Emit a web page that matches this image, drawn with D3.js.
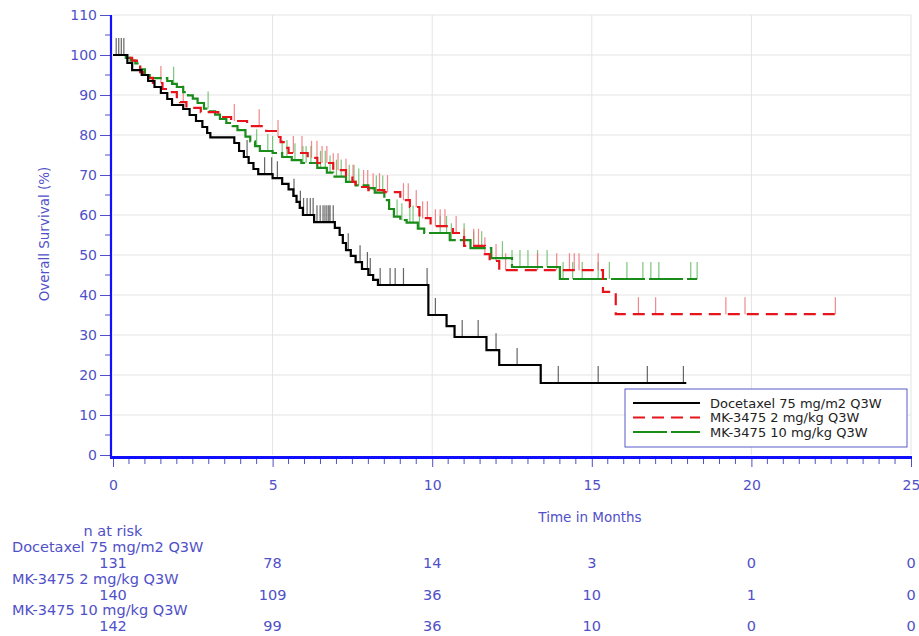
<!DOCTYPE html>
<html><head><meta charset="utf-8">
<script src="https://cdn.jsdelivr.net/npm/d3@7"></script>
<style>body{margin:0;background:#fff}svg{display:block}</style>
</head><body><svg id="c" width="919" height="636"></svg>
<script>
// ---------- data ----------
const seriesNames = ["Docetaxel 75 mg/m2 Q3W", "MK-3475 2 mg/kg Q3W", "MK-3475 10 mg/kg Q3W"];
const timeTicks = [0, 5, 10, 15, 20, 25];
const survTicks = [0, 10, 20, 30, 40, 50, 60, 70, 80, 90, 100, 110];

const docetaxelTimes = [0, 0.45, 0.6, 0.9, 1.1, 1.3, 1.5, 1.7, 1.85, 2.2, 2.4, 2.6, 2.8, 2.95, 3.05, 3.8, 3.95, 4.1, 4.25, 4.4, 4.55, 5.0, 5.3, 5.5, 5.65, 5.75, 5.85, 5.95, 6.3, 6.95, 7.1, 7.2, 7.3, 7.45, 7.6, 7.8, 8.0, 8.15, 8.3, 9.88, 10.45, 10.7, 11.7, 12.1, 13.4];
const docetaxelSurv  = [100, 98, 96.2, 95, 93.5, 92, 90.5, 89, 87.5, 86.5, 85, 83.5, 82, 80.5, 79.4, 78, 76, 74.5, 73, 71.5, 70.2, 69.2, 67.8, 66.4, 64.8, 63.3, 61.8, 60, 58.2, 56.8, 55, 53, 51.2, 49.8, 48.2, 46.5, 45, 43.8, 42.5, 35, 32.2, 29.5, 26.2, 22.5, 18];
const docetaxelEnd = 17.96;
const docetaxelCensor = [0.1, 0.18, 0.26, 0.34, 4.2, 4.75, 4.97, 5.15, 5.67, 5.87, 5.97, 6.08, 6.18, 6.27, 6.39, 6.49, 6.58, 6.64, 6.7, 6.76, 6.8, 6.9, 7.37, 7.74, 7.97, 8.06, 8.37, 8.68, 8.84, 9.1, 9.84, 10.1, 10.94, 11.44, 12.0, 12.66, 13.95, 15.2, 16.74, 17.87];

const mk2Times = [0, 0.45, 0.6, 0.75, 0.85, 0.95, 1.25, 1.55, 1.7, 2.0, 2.1, 2.3, 2.75, 3.3, 3.7, 4.2, 4.8, 5.15, 5.25, 5.4, 5.5, 6.1, 6.4, 6.9, 7.3, 7.5, 7.6, 8.0, 8.5, 9.0, 9.3, 9.6, 9.95, 10.65, 11.0, 11.65, 11.8, 12.1, 15.35, 15.75];
const mk2Surv  = [100, 99.3, 98.6, 97.1, 95.7, 94.3, 93, 91.5, 90.7, 89.2, 88.2, 86.8, 85.7, 84.5, 83.5, 82.2, 81, 79.5, 78.2, 76.8, 75.5, 74.3, 73, 71.2, 69.8, 68.3, 67, 66.2, 65.7, 63.7, 62, 59.2, 57.2, 55.5, 52.3, 50.2, 48.5, 46.2, 40.8, 35.2];
const mk2End = 22.63;
const mk2Censor = [1.5, 2.2, 3.8, 4.58, 5.17, 5.65, 5.92, 6.22, 6.39, 6.55, 6.7, 6.9, 7.05, 7.3, 7.52, 7.85, 7.98, 8.15, 8.35, 8.6, 9.1, 9.25, 9.5, 9.7, 9.85, 10.1, 10.25, 10.4, 10.75, 11.0, 11.3, 11.45, 11.65, 12.0, 12.3, 13.3, 13.9, 14.3, 14.45, 14.6, 15.2, 16.46, 17.0, 19.2, 19.8, 22.63];

const mk10Times = [0, 0.4, 0.55, 0.7, 0.85, 1.0, 1.15, 1.7, 1.85, 2.0, 2.2, 2.35, 2.5, 2.65, 2.85, 3.0, 3.2, 3.35, 3.55, 3.75, 3.9, 4.15, 4.3, 4.45, 4.6, 5.0, 5.3, 5.6, 5.9, 6.4, 6.7, 6.9, 7.3, 7.6, 8.0, 8.2, 8.5, 8.65, 8.8, 9.0, 9.2, 9.55, 9.75, 10.55, 11.2, 11.85, 12.5, 14.0];
const mk10Surv  = [100, 99.3, 98.6, 97.9, 96.4, 95, 94.2, 93.5, 92.8, 92, 90.7, 89.9, 89.1, 88, 86.6, 85.9, 85.1, 84, 83, 82.2, 81.2, 79.6, 78.4, 77.2, 76, 75.5, 74.5, 73.7, 73, 71.8, 70.6, 69.6, 68.3, 67.4, 66.7, 65.6, 63.7, 61.5, 59.6, 58.7, 58.1, 56.6, 55.5, 53.7, 51.7, 49.2, 47, 44];
const mk10End = 18.3;
const mk10Censor = [1.9, 2.98, 4.5, 4.85, 5.0, 5.3, 5.45, 5.7, 5.95, 6.05, 6.2, 6.5, 6.65, 6.8, 7.0, 7.15, 7.4, 7.55, 7.7, 8.25, 8.45, 8.9, 9.05, 9.3, 9.4, 9.6, 10.25, 10.45, 10.6, 11.0, 11.3, 11.55, 12.2, 12.5, 12.75, 13.0, 13.3, 13.6, 14.1, 14.4, 14.7, 15.2, 15.55, 16.1, 16.6, 16.85, 17.1, 18.1, 18.3];

const riskTimes = [0, 5, 10, 15, 20, 25];
const riskDocetaxel = [131, 78, 14, 3, 0, 0];
const riskMK2 = [140, 109, 36, 10, 1, 0];
const riskMK10 = [142, 99, 36, 10, 0, 0];

// ---------- drawing ----------
const svg = d3.select("#c");
const x = d3.scaleLinear().domain([0, 25]).range([113, 911]);
const y = d3.scaleLinear().domain([0, 110]).range([455, 15]);
const axisBlue = "#1010ff", textBlue = "#5050c8", font = "DejaVu Sans, sans-serif";

// grid
svg.append("g").selectAll("line").data(survTicks.slice(1)).join("line")
  .attr("x1", x(0)).attr("x2", x(25)).attr("y1", d => y(d)).attr("y2", d => y(d))
  .attr("stroke", "#e4e4e4").attr("stroke-width", 1);
svg.append("g").selectAll("line").data(timeTicks.slice(1)).join("line")
  .attr("x1", d => x(d)).attr("x2", d => x(d)).attr("y1", y(110)).attr("y2", y(0))
  .attr("stroke", "#e4e4e4").attr("stroke-width", 1);

// axes
const yAxis = d3.axisLeft(y).tickValues(survTicks).tickSize(11).tickPadding(3);
const gy = svg.append("g").attr("transform", "translate(111,0)").call(yAxis);
gy.select(".domain").remove();
gy.selectAll(".tick line").attr("stroke", textBlue);
gy.selectAll("text").attr("fill", textBlue).attr("font-family", font).attr("font-size", 14);
const yMinor = d3.range(5, 110, 10);
svg.append("g").selectAll("line").data(yMinor).join("line")
  .attr("x1", 105).attr("x2", 111).attr("y1", d => y(d)).attr("y2", d => y(d)).attr("stroke", textBlue);
svg.append("line").attr("x1", 111).attr("x2", 111).attr("y1", y(110)).attr("y2", 458)
  .attr("stroke", axisBlue).attr("stroke-width", 2.2);

const xAxis = d3.axisBottom(x).tickValues(timeTicks).tickSize(9).tickPadding(13);
const gx = svg.append("g").attr("transform", "translate(0,458)").call(xAxis);
gx.select(".domain").remove();
gx.selectAll(".tick line").attr("stroke", textBlue);
gx.selectAll("text").attr("fill", textBlue).attr("font-family", font).attr("font-size", 14);
svg.append("g").selectAll("line").data(d3.range(0.5, 25, 0.5).filter(d => d % 5 !== 0)).join("line")
  .attr("x1", d => x(d)).attr("x2", d => x(d)).attr("y1", 458).attr("y2", 464).attr("stroke", textBlue);
svg.append("line").attr("x1", 110).attr("x2", 912).attr("y1", 457.5).attr("y2", 457.5)
  .attr("stroke", axisBlue).attr("stroke-width", 3);

svg.append("text").attr("x", 590).attr("y", 522).attr("text-anchor", "middle")
  .attr("fill", textBlue).attr("font-family", font).attr("font-size", 13.5).text("Time in Months");
svg.append("text").attr("transform", "translate(49,234) rotate(-90)").attr("text-anchor", "middle")
  .attr("fill", textBlue).attr("font-family", font).attr("font-size", 13.5).text("Overall Survival (%)");

// curves
const series = [
  {times: docetaxelTimes, surv: docetaxelSurv, end: docetaxelEnd, cens: docetaxelCensor, color: "#000000", tick: "#333", dash: null},
  {times: mk2Times, surv: mk2Surv, end: mk2End, cens: mk2Censor, color: "#e8141c", tick: "#f06a70", dash: "12,7"},
  {times: mk10Times, surv: mk10Surv, end: mk10End, cens: mk10Censor, color: "#1a8c1a", tick: "#5cb85c", dash: "34,4"}
];
const line = d3.line().x(d => x(d[0])).y(d => y(d[1])).curve(d3.curveStepAfter);
function survAt(s, t) {
  let v = s.surv[0];
  for (let i = 0; i < s.times.length; i++) { if (s.times[i] <= t) v = s.surv[i]; }
  return v;
}
[2, 1, 0].forEach(k => {
  const s = series[k];
  svg.append("g").selectAll("line").data(s.cens).join("line")
    .attr("x1", d => x(d)).attr("x2", d => x(d))
    .attr("y1", d => y(survAt(s, d))).attr("y2", d => y(survAt(s, d)) - 17)
    .attr("stroke", s.tick).attr("stroke-width", 1.2).attr("opacity", k === 0 ? 0.75 : 0.8);
});
[2, 1, 0].forEach(k => {
  const s = series[k];
  const pts = s.times.map((t, i) => [t, s.surv[i]]);
  pts.push([s.end, s.surv[s.surv.length - 1]]);
  svg.append("path").datum(pts).attr("d", line).attr("fill", "none")
    .attr("stroke", s.color).attr("stroke-width", 2.2)
    .attr("stroke-dasharray", s.dash);
});

// legend
svg.append("rect").attr("x", 625).attr("y", 389).attr("width", 282).attr("height", 58)
  .attr("fill", "#fff").attr("stroke", "#5a5acc").attr("stroke-width", 1);
series.forEach((s, i) => {
  const ly = 403 + i * 14.5;
  svg.append("line").attr("x1", 633).attr("x2", 700).attr("y1", ly).attr("y2", ly)
    .attr("stroke", s.color).attr("stroke-width", 2.2).attr("stroke-dasharray", s.dash);
  svg.append("text").attr("x", 710).attr("y", ly + 4.5).attr("fill", "#222")
    .attr("font-family", font).attr("font-size", 13).text(seriesNames[i]);
});

// risk table
const riskRows = [riskDocetaxel, riskMK2, riskMK10];
svg.append("text").attr("x", 113).attr("y", 536).attr("text-anchor", "middle")
  .attr("fill", textBlue).attr("font-family", font).attr("font-size", 14.5).text("n at risk");
riskRows.forEach((row, i) => {
  const ly = 552 + i * 31.5;
  svg.append("text").attr("x", 12).attr("y", ly).attr("fill", textBlue)
    .attr("font-family", font).attr("font-size", 14.5).text(seriesNames[i]);
  svg.append("g").selectAll("text").data(row).join("text")
    .attr("x", (d, j) => x(riskTimes[j])).attr("y", ly + 16).attr("text-anchor", "middle")
    .attr("fill", textBlue).attr("font-family", font).attr("font-size", 14.5).text(d => d);
});
</script></body></html>
